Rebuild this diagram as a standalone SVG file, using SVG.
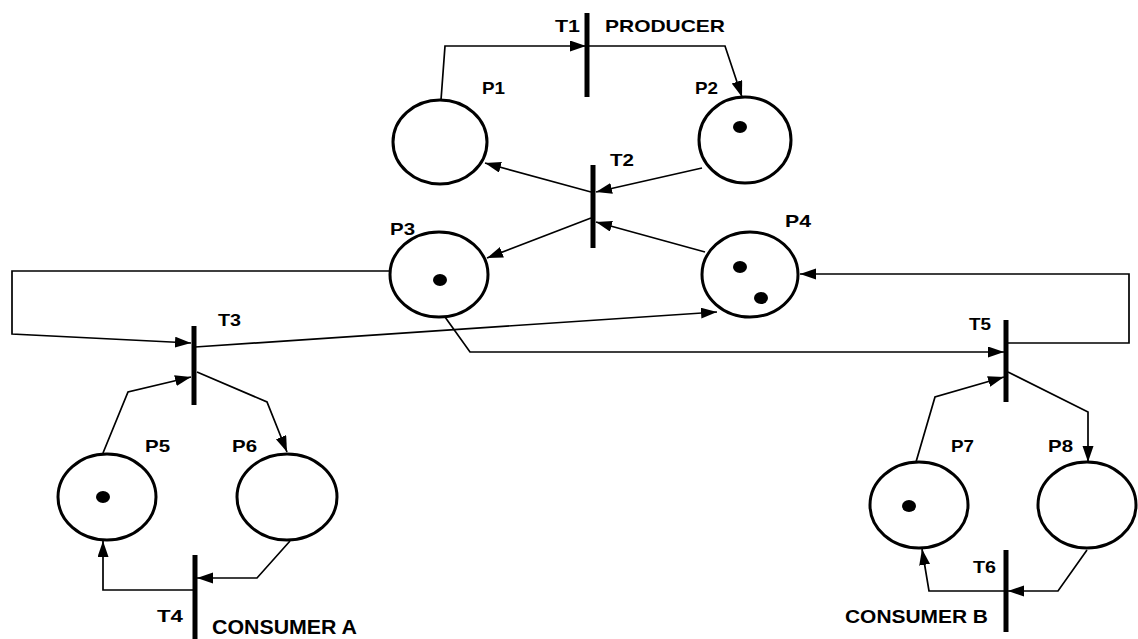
<svg xmlns="http://www.w3.org/2000/svg" width="1138" height="639" viewBox="0 0 1138 639">
<defs>
<style>
.place{fill:#fff;stroke:#000;stroke-width:3}
.tok{fill:#000}
.bar{stroke:#000;stroke-width:5}
.arc{fill:none;stroke:#000;stroke-width:1.7}
.lbl{font-family:"Liberation Sans",Arial,sans-serif;font-weight:bold;font-size:17px;fill:#000}
</style>
<marker id="ah" markerUnits="userSpaceOnUse" markerWidth="18" markerHeight="12" refX="16" refY="5.5" orient="auto">
<path d="M0,0 L16,5.5 L0,11 z" fill="#000"/>
</marker>
</defs>
<rect width="1138" height="639" fill="#fff"/>
<g id="connectors">
<polyline class="arc" points="441,100 445,46 586,46" marker-end="url(#ah)"/>
<polyline class="arc" points="589,46 725,46 742,97" marker-end="url(#ah)"/>
<polyline class="arc" points="702,168 596,192" marker-end="url(#ah)"/>
<polyline class="arc" points="591,192 485,163" marker-end="url(#ah)"/>
<polyline class="arc" points="591,218 487,258" marker-end="url(#ah)"/>
<polyline class="arc" points="705,252 596,222" marker-end="url(#ah)"/>
<polyline class="arc" points="390,271 12,271 12,334 191,343" marker-end="url(#ah)"/>
<polyline class="arc" points="195,347 717,312" marker-end="url(#ah)"/>
<polyline class="arc" points="445,317 470,352 1004,352" marker-end="url(#ah)"/>
<polyline class="arc" points="1008,343 1129,343 1129,274 800,274" marker-end="url(#ah)"/>
<polyline class="arc" points="916,462 935,397 1004,377" marker-end="url(#ah)"/>
<polyline class="arc" points="1008,372 1088,412 1088,462" marker-end="url(#ah)"/>
<polyline class="arc" points="1087,550 1058,591 1008,591" marker-end="url(#ah)"/>
<polyline class="arc" points="1004,591 929,591 922,549" marker-end="url(#ah)"/>
<polyline class="arc" points="103,453 128,392 191,377" marker-end="url(#ah)"/>
<polyline class="arc" points="197,372 267,402 287,452" marker-end="url(#ah)"/>
<polyline class="arc" points="290,541 257,578 197,578" marker-end="url(#ah)"/>
<polyline class="arc" points="193,590 103,590 103,541" marker-end="url(#ah)"/>
</g>
<g id="T1"><line class="bar" x1="587" y1="13" x2="587" y2="97"/><text class="lbl" x="555" y="32" textLength="25" lengthAdjust="spacingAndGlyphs">T1</text><text class="lbl" x="605" y="32" textLength="120" lengthAdjust="spacingAndGlyphs">PRODUCER</text></g>
<g id="T2"><line class="bar" x1="593" y1="165" x2="593" y2="248"/><text class="lbl" x="610" y="166" textLength="24" lengthAdjust="spacingAndGlyphs">T2</text></g>
<g id="T3"><line class="bar" x1="194" y1="326" x2="194" y2="405"/><text class="lbl" x="218" y="326" textLength="23" lengthAdjust="spacingAndGlyphs">T3</text></g>
<g id="T4"><line class="bar" x1="195" y1="555" x2="195" y2="639"/><text class="lbl" x="157" y="622" textLength="26" lengthAdjust="spacingAndGlyphs">T4</text><text class="lbl" x="212" y="634" style="font-size:20px" textLength="145" lengthAdjust="spacingAndGlyphs">CONSUMER A</text></g>
<g id="T5"><line class="bar" x1="1006" y1="320" x2="1006" y2="402"/><text class="lbl" x="969" y="330" textLength="22" lengthAdjust="spacingAndGlyphs">T5</text></g>
<g id="T6"><line class="bar" x1="1006" y1="550" x2="1006" y2="632"/><text class="lbl" x="973" y="573" textLength="23" lengthAdjust="spacingAndGlyphs">T6</text><text class="lbl" x="845" y="623" style="font-size:18px" textLength="143" lengthAdjust="spacingAndGlyphs">CONSUMER B</text></g>
<g id="P1"><ellipse class="place" cx="440" cy="142" rx="47" ry="42"/><text class="lbl" x="482" y="94" textLength="23" lengthAdjust="spacingAndGlyphs">P1</text></g>
<g id="P2"><ellipse class="place" cx="745" cy="140" rx="46" ry="43"/><ellipse class="tok" cx="740" cy="127" rx="7" ry="6"/><text class="lbl" x="695" y="94" textLength="23" lengthAdjust="spacingAndGlyphs">P2</text></g>
<g id="P3"><ellipse class="place" cx="439" cy="274.5" rx="49" ry="42.5"/><ellipse class="tok" cx="440" cy="280" rx="7" ry="6"/><text class="lbl" x="390" y="235" textLength="25" lengthAdjust="spacingAndGlyphs">P3</text></g>
<g id="P4"><ellipse class="place" cx="750" cy="274.5" rx="48" ry="42.5"/><ellipse class="tok" cx="740" cy="267" rx="7" ry="6"/><ellipse class="tok" cx="761" cy="298" rx="7" ry="6"/><text class="lbl" x="785" y="227" textLength="26" lengthAdjust="spacingAndGlyphs">P4</text></g>
<g id="P5"><ellipse class="place" cx="107" cy="497" rx="49" ry="43"/><ellipse class="tok" cx="103" cy="497" rx="7" ry="6"/><text class="lbl" x="145" y="452" textLength="25" lengthAdjust="spacingAndGlyphs">P5</text></g>
<g id="P6"><ellipse class="place" cx="287" cy="497" rx="50" ry="43"/><text class="lbl" x="232" y="452" textLength="25" lengthAdjust="spacingAndGlyphs">P6</text></g>
<g id="P7"><ellipse class="place" cx="919" cy="505" rx="49" ry="43"/><ellipse class="tok" cx="909" cy="506" rx="7" ry="6"/><text class="lbl" x="951" y="452" textLength="23" lengthAdjust="spacingAndGlyphs">P7</text></g>
<g id="P8"><ellipse class="place" cx="1087" cy="505" rx="49" ry="43"/><text class="lbl" x="1048" y="452" textLength="25" lengthAdjust="spacingAndGlyphs">P8</text></g>
</svg>
